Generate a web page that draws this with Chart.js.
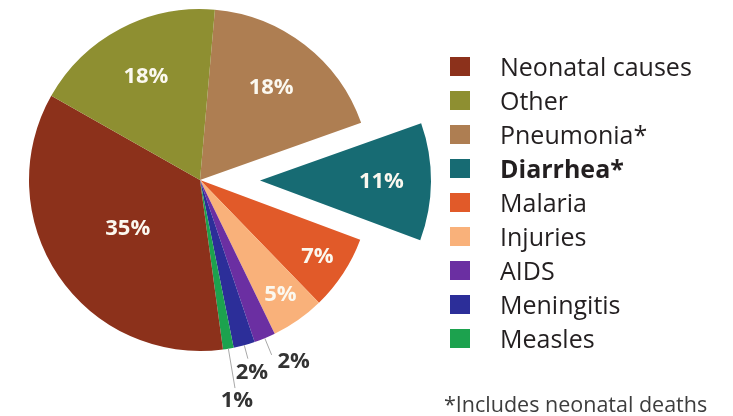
<!DOCTYPE html>
<html>
<head>
<meta charset="utf-8">
<script src="https://cdn.jsdelivr.net/npm/chart.js@4.4.1/dist/chart.umd.min.js"></script>
<style>
  html, body { margin: 0; padding: 0; background: #ffffff; }
  #wrap { position: relative; width: 733px; height: 416px; overflow: hidden; }
  #c { position: absolute; left: 0; top: 0; }
  #legend { position: absolute; left: 450px; top: 49px; font-family: "Open Sans", sans-serif; font-size: 25px; color: #231f20; }
  .row { display: flex; align-items: center; height: 34px; white-space: nowrap; }
  .sw { width: 20px; height: 19px; margin-right: 30px; flex: none; }
  .bold { font-weight: 700; }
  #note { position: absolute; left: 444px; top: 389px; font-family: "Open Sans", sans-serif; font-size: 21.5px; color: #3d3d3d; white-space: nowrap; }
</style>
</head>
<body>
<div id="wrap">
  <canvas id="c" width="733" height="416"></canvas>
  <div id="legend"></div>
  <div id="note">*Includes neonatal deaths</div>
</div>
<script>
// ---- data (clockwise from top) ----
const categories = ["Pneumonia*", "Diarrhea*", "Malaria", "Injuries", "AIDS", "Meningitis", "Measles", "Neonatal causes", "Other"];
const shares     = [18, 11, 7, 5, 2, 2, 1, 35, 18];
const sliceColors = ["#ae7e52", "#176b73", "#e15a29", "#f9b17a", "#6b2fa2", "#2c2e99", "#1ca24e", "#8c311b", "#8e8f31"];
const legendOrder = ["Neonatal causes", "Other", "Pneumonia*", "Diarrhea*", "Malaria", "Injuries", "AIDS", "Meningitis", "Measles"];
const legendBold  = ["Diarrhea*"];

// ---- styling of labels / explosion (not data) ----
const explodeDistance = { "Diarrhea*": 60 };
const insideLabelRadius = { "Pneumonia*": 0.68, "Diarrhea*": 0.71, "Malaria": 0.82, "Injuries": 0.82, "Neonatal causes": 0.51, "Other": 0.68 };
const callouts = {
  "AIDS":       { len: 18, dx: 22, dy: 7,  align: "center" },
  "Meningitis": { len: 14, dx: 4,  dy: 14, align: "center" },
  "Measles":    { len: 40, dx: 2,  dy: 13, align: "center" }
};

// ---- HTML legend ----
const legendEl = document.getElementById("legend");
legendOrder.forEach(name => {
  const i = categories.indexOf(name);
  const row = document.createElement("div");
  row.className = "row";
  const sw = document.createElement("span");
  sw.className = "sw";
  sw.style.background = sliceColors[i];
  const tx = document.createElement("span");
  tx.textContent = name;
  if (legendBold.includes(name)) tx.className = "bold";
  row.appendChild(sw); row.appendChild(tx);
  legendEl.appendChild(row);
});

const piePlugin = {
  id: "pieExtras",
  beforeDatasetsDraw(chart) {
    const meta = chart.getDatasetMeta(0);
    meta.data.forEach((arc, i) => {
      const d = explodeDistance[categories[i]];
      if (d) {
        const mid = (arc.startAngle + arc.endAngle) / 2;
        arc._origX = arc.x; arc._origY = arc.y;
        arc.x = arc.x + Math.cos(mid) * d;
        arc.y = arc.y + Math.sin(mid) * d;
      }
    });
  },
  afterDatasetsDraw(chart) {
    const ctx = chart.ctx;
    const meta = chart.getDatasetMeta(0);
    ctx.save();
    ctx.textBaseline = "middle";
    meta.data.forEach((arc, i) => {
      const name = categories[i];
      const text = shares[i] + "%";
      const mid = (arc.startAngle + arc.endAngle) / 2;
      const R = arc.outerRadius;
      if (insideLabelRadius[name] !== undefined) {
        const r = R * insideLabelRadius[name];
        ctx.font = "bold 22px 'Open Sans', sans-serif";
        ctx.fillStyle = "#fbf8ef";
        ctx.textAlign = "center";
        ctx.fillText(text, arc.x + Math.cos(mid) * r, arc.y + Math.sin(mid) * r);
      } else if (callouts[name]) {
        const c = callouts[name];
        const x0 = arc.x + Math.cos(mid) * R, y0 = arc.y + Math.sin(mid) * R;
        const x1 = arc.x + Math.cos(mid) * (R + c.len), y1 = arc.y + Math.sin(mid) * (R + c.len);
        ctx.strokeStyle = "#a8a8a8";
        ctx.lineWidth = 1;
        ctx.beginPath(); ctx.moveTo(x0, y0); ctx.lineTo(x1, y1); ctx.stroke();
        ctx.font = "bold 22px 'Open Sans', sans-serif";
        ctx.fillStyle = "#333333";
        ctx.textAlign = c.align;
        ctx.fillText(text, x1 + c.dx, y1 + c.dy);
      }
    });
    ctx.restore();
    meta.data.forEach(arc => {
      if (arc._origX !== undefined) { arc.x = arc._origX; arc.y = arc._origY; delete arc._origX; delete arc._origY; }
    });
  }
};

new Chart(document.getElementById("c"), {
  type: "pie",
  data: {
    labels: categories,
    datasets: [{
      data: shares,
      backgroundColor: sliceColors,
      borderWidth: 0,
      clip: false
    }]
  },
  options: {
    responsive: false,
    animation: false,
    events: [],
    rotation: 5,
    radius: 171,
    layout: { padding: { left: 0, top: 0, right: 333, bottom: 56 } },
    plugins: { legend: { display: false }, tooltip: { enabled: false } }
  },
  plugins: [piePlugin]
});
</script>
</body>
</html>
